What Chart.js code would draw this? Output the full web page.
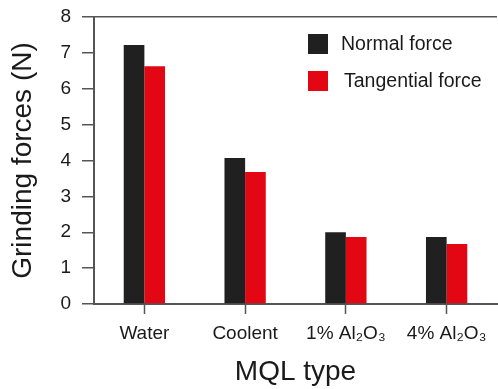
<!DOCTYPE html>
<html>
<head>
<meta charset="utf-8">
<script src="https://cdn.jsdelivr.net/npm/chart.js@4"></script>
<style>
  html, body { margin: 0; padding: 0; background: #fff; }
  #wrap { width: 498px; height: 389px; }
</style>
</head>
<body>
<div id="wrap"><canvas id="c"></canvas></div>
<script>
const categories = ['Water', 'Coolent', '1% Al\u2082O\u2083', '4% Al\u2082O\u2083'];
const normalForce = [7.22, 4.07, 2.0, 1.87];
const tangentialForce = [6.63, 3.68, 1.87, 1.67];
const seriesNames = ['Normal force', 'Tangential force'];
const seriesColors = ['#202020', '#e30613'];

const FONT = '"Liberation Sans", Arial, Helvetica, sans-serif';
const AXIS_GREY = '#555555';

// Legend drawn inside the plot area, top-right
const innerLegend = {
  id: 'innerLegend',
  afterDraw(chart) {
    const ctx = chart.ctx;
    const area = chart.chartArea;
    const x0 = area.left + 214;
    const rows = [area.top + 17, area.top + 54];
    const textX = [x0 + 33, x0 + 36];
    ctx.save();
    ctx.font = '19.5px ' + FONT;
    ctx.textBaseline = 'middle';
    ctx.textAlign = 'left';
    chart.data.datasets.forEach((ds, i) => {
      ctx.fillStyle = ds.backgroundColor;
      ctx.fillRect(x0, rows[i], 20, 20);
      ctx.fillStyle = '#1a1a1a';
      ctx.fillText(ds.label, textX[i], rows[i] + 11);
    });
    ctx.restore();
  }
};

new Chart(document.getElementById('c'), {
  type: 'bar',
  data: {
    labels: categories,
    datasets: [
      { label: seriesNames[0], data: normalForce, backgroundColor: seriesColors[0] },
      { label: seriesNames[1], data: tangentialForce, backgroundColor: seriesColors[1] }
    ]
  },
  options: {
    responsive: true,
    maintainAspectRatio: false,
    animation: false,
    devicePixelRatio: 1,
    categoryPercentage: 0.41,
    barPercentage: 1.0,
    layout: { padding: { top: 17, right: 1, left: 0, bottom: 0 } },
    plugins: {
      legend: { display: false },
      tooltip: { enabled: false }
    },
    scales: {
      x: {
        afterFit(scale) { scale.height = 85; scale.paddingLeft = 0; scale.paddingRight = 0; },
        border: { display: true, color: AXIS_GREY, width: 2 },
        grid: {
          offset: false,
          drawOnChartArea: false,
          drawTicks: true,
          tickLength: 10,
          tickColor: AXIS_GREY,
          tickWidth: 1.5
        },
        ticks: {
          color: '#1a1a1a',
          font: { family: FONT, size: 19 },
          padding: 8,
          maxRotation: 0
        },
        title: {
          display: true,
          text: 'MQL type',
          color: '#1a1a1a',
          font: { family: FONT, size: 28 },
          padding: { top: 0, bottom: 0 }
        }
      },
      y: {
        min: 0,
        max: 8,
        afterFit(scale) { scale.width = 94; scale.paddingTop = 0; scale.paddingBottom = 0; },
        border: { display: true, color: AXIS_GREY, width: 2 },
        grid: {
          drawOnChartArea: true,
          drawTicks: true,
          tickLength: 12,
          tickColor: AXIS_GREY,
          tickWidth: 1.5,
          lineWidth: 1.5,
          color: (c) => (c.tick && c.tick.value === 8 ? AXIS_GREY : 'rgba(0,0,0,0)')
        },
        ticks: {
          stepSize: 1,
          color: '#1a1a1a',
          font: { family: FONT, size: 19 },
          padding: 11
        },
        title: {
          display: true,
          text: 'Grinding forces (N)',
          color: '#1a1a1a',
          font: { family: FONT, size: 28 },
          padding: { top: 6, bottom: 0 }
        }
      }
    }
  },
  plugins: [innerLegend]
});
</script>
</body>
</html>
